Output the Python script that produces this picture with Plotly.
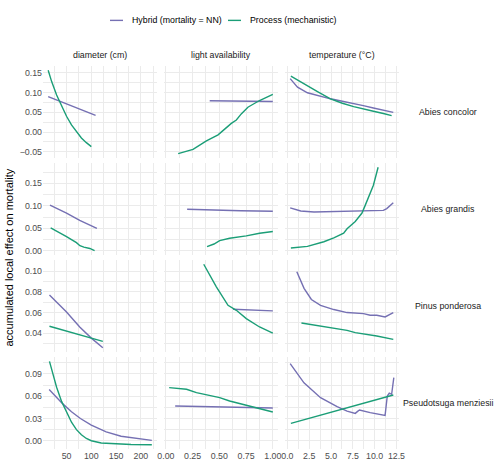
import plotly.graph_objects as go
from plotly.subplots import make_subplots

SPECIES = ["Abies concolor", "Abies grandis", "Pinus ponderosa", "Pseudotsuga menziesii"]
VARIABLES = ["diameter (cm)", "light availability", "temperature (°C)"]
MODELS = ["Hybrid (mortality = NN)", "Process (mechanistic)"]
COLORS = ["#7570B3", "#1B9E77"]

# Abies concolor
ac_diam_hyb_x = [13, 40, 70, 108.6]
ac_diam_hyb_y = [0.090, 0.0765, 0.0615, 0.042]
ac_diam_pro_x = [13, 20, 30, 40, 50, 60, 70, 80, 90, 100]
ac_diam_pro_y = [0.157, 0.128, 0.094, 0.065, 0.040, 0.018, 0.000, -0.015, -0.027, -0.037]
ac_light_hyb_x = [0.41, 0.6, 0.8, 1.0]
ac_light_hyb_y = [0.0795, 0.079, 0.078, 0.0775]
ac_light_pro_x = [0.115, 0.254, 0.379, 0.488, 0.55, 0.612, 0.659, 0.705, 0.767, 0.876, 1.0]
ac_light_pro_y = [-0.055, -0.044, -0.0226, -0.0072, 0.0074, 0.022, 0.0305, 0.046, 0.063, 0.080, 0.0954]
ac_temp_hyb_x = [0.32, 1.16, 2.3, 3.5, 4.94, 6.3, 7.6, 8.7, 9.86, 11, 12.14]
ac_temp_hyb_y = [0.1356, 0.114, 0.0997, 0.092, 0.0843, 0.078, 0.073, 0.067, 0.061, 0.055, 0.050]
ac_temp_pro_x = [0.4, 1.3, 2.3, 3.5, 4.94, 6.3, 7.6, 8.7, 9.86, 11, 11.95]
ac_temp_pro_y = [0.142, 0.130, 0.118, 0.102, 0.0843, 0.073, 0.0646, 0.058, 0.0527, 0.047, 0.0415]

# Abies grandis
ag_diam_hyb_x = [16.6, 50, 76.6, 111.2]
ag_diam_hyb_y = [0.1014, 0.084, 0.0676, 0.050]
ag_diam_pro_x = [18, 30, 50, 70, 77, 85, 97, 106.6]
ag_diam_pro_y = [0.051, 0.044, 0.0315, 0.018, 0.0113, 0.008, 0.005, 0.0]
ag_light_hyb_x = [0.199, 0.4, 0.7, 1.0]
ag_light_hyb_y = [0.0923, 0.0905, 0.089, 0.0878]
ag_light_pro_x = [0.385, 0.45, 0.503, 0.596, 0.752, 0.876, 1.0]
ag_light_pro_y = [0.009, 0.015, 0.0225, 0.0278, 0.033, 0.039, 0.0428]
ag_temp_hyb_x = [0.32, 1.53, 3.05, 4.5, 6.08, 8.73, 11.0, 11.39, 12.14]
ag_temp_hyb_y = [0.0953, 0.0885, 0.0863, 0.087, 0.0885, 0.0885, 0.090, 0.0939, 0.107]
ag_temp_pro_x = [0.4, 2.3, 4.18, 5.32, 6.45, 6.84, 7.78, 8.55, 8.92, 9.86, 10.4]
ag_temp_pro_y = [0.006, 0.0097, 0.020, 0.0286, 0.039, 0.0489, 0.0653, 0.084, 0.101, 0.146, 0.186]

# Pinus ponderosa
pp_diam_hyb_x = [15.6, 50, 76.6, 100, 123.2]
pp_diam_hyb_y = [0.0768, 0.0606, 0.0461, 0.0354, 0.0261]
pp_diam_pro_x = [15.6, 50, 100, 123.2]
pp_diam_pro_y = [0.0468, 0.0419, 0.0354, 0.0322]
pp_light_hyb_x = [0.628, 0.8, 1.0]
pp_light_hyb_y = [0.0632, 0.0622, 0.0616]
pp_light_pro_x = [0.354, 0.472, 0.581, 0.659, 0.752, 0.876, 1.0]
pp_light_pro_y = [0.1065, 0.0848, 0.067, 0.0622, 0.0542, 0.0461, 0.0403]
pp_temp_hyb_x = [1.08, 1.91, 2.75, 3.8, 5.32, 6.84, 8.73, 9.49, 10.25, 11.2, 12.14]
pp_temp_hyb_y = [0.0993, 0.0833, 0.0726, 0.067, 0.0629, 0.060, 0.059, 0.0574, 0.0574, 0.0558, 0.060]
pp_temp_pro_x = [1.61, 4.18, 6.84, 7.78, 9.49, 10.25, 12.14]
pp_temp_pro_y = [0.050, 0.0468, 0.0429, 0.0407, 0.0387, 0.0374, 0.0342]

# Pseudotsuga menziesii
pm_diam_hyb_x = [15, 30, 42, 60, 78, 100, 130, 160, 190, 222]
pm_diam_hyb_y = [0.069, 0.058, 0.050, 0.039, 0.030, 0.021, 0.012, 0.006, 0.003, 0.0005]
pm_diam_pro_x = [15.6, 20, 27, 30, 40, 50, 60, 70, 80, 90, 100, 120, 150, 180, 222]
pm_diam_pro_y = [0.107, 0.096, 0.080, 0.072, 0.053, 0.038, 0.025, 0.015, 0.008, 0.003, 0.000,
                 -0.003, -0.0045, -0.005, -0.0055]
pm_light_hyb_x = [0.087, 0.5, 1.0]
pm_light_hyb_y = [0.0468, 0.0455, 0.0441]
pm_light_pro_x = [0.031, 0.193, 0.286, 0.379, 0.503, 0.596, 0.752, 0.876, 1.0]
pm_light_pro_y = [0.0716, 0.0693, 0.0649, 0.0617, 0.0581, 0.0535, 0.0477, 0.0432, 0.0387]
pm_temp_hyb_x = [0.32, 0.77, 1.9, 3.8, 5.7, 6.84, 7.78, 8.05, 8.27, 9.49, 11.2, 11.45, 11.68, 11.95, 12.2]
pm_temp_hyb_y = [0.104, 0.0964, 0.078, 0.058, 0.046, 0.040, 0.0369, 0.0396, 0.0414, 0.0378, 0.0342,
                 0.0603, 0.064, 0.0626, 0.085]
pm_temp_pro_x = [0.4, 6.27, 12.14]
pm_temp_pro_y = [0.0234, 0.0425, 0.0616]

# (fila, columna, modelo, x, y)
curvas = [
    (1, 1, 0, ac_diam_hyb_x, ac_diam_hyb_y), (1, 1, 1, ac_diam_pro_x, ac_diam_pro_y),
    (1, 2, 0, ac_light_hyb_x, ac_light_hyb_y), (1, 2, 1, ac_light_pro_x, ac_light_pro_y),
    (1, 3, 0, ac_temp_hyb_x, ac_temp_hyb_y), (1, 3, 1, ac_temp_pro_x, ac_temp_pro_y),
    (2, 1, 0, ag_diam_hyb_x, ag_diam_hyb_y), (2, 1, 1, ag_diam_pro_x, ag_diam_pro_y),
    (2, 2, 0, ag_light_hyb_x, ag_light_hyb_y), (2, 2, 1, ag_light_pro_x, ag_light_pro_y),
    (2, 3, 0, ag_temp_hyb_x, ag_temp_hyb_y), (2, 3, 1, ag_temp_pro_x, ag_temp_pro_y),
    (3, 1, 0, pp_diam_hyb_x, pp_diam_hyb_y), (3, 1, 1, pp_diam_pro_x, pp_diam_pro_y),
    (3, 2, 0, pp_light_hyb_x, pp_light_hyb_y), (3, 2, 1, pp_light_pro_x, pp_light_pro_y),
    (3, 3, 0, pp_temp_hyb_x, pp_temp_hyb_y), (3, 3, 1, pp_temp_pro_x, pp_temp_pro_y),
    (4, 1, 0, pm_diam_hyb_x, pm_diam_hyb_y), (4, 1, 1, pm_diam_pro_x, pm_diam_pro_y),
    (4, 2, 0, pm_light_hyb_x, pm_light_hyb_y), (4, 2, 1, pm_light_pro_x, pm_light_pro_y),
    (4, 3, 0, pm_temp_hyb_x, pm_temp_hyb_y), (4, 3, 1, pm_temp_pro_x, pm_temp_pro_y),
]

y_dtick = [0.05, 0.05, 0.02, 0.03]
x_dtick = [50, 0.25, 2.5]
x_format = ["", ".2f", ".1f"]

FONT = "Liberation Sans, Arial, sans-serif"
GRID = "#EBEBEB"

# tamaño del área de paneles en pixeles
L, R, T, B = 43, 105, 65.7, 18.6
W, H = 504, 468
PW, PH = W - L - R, H - T - B


def px_x(p):   # pixel -> coordenada paper
    return (p - L) / PW


def px_y(p):
    return (H - B - p) / PH


fig = make_subplots(rows=4, cols=3, shared_xaxes=True, shared_yaxes=True,
                    horizontal_spacing=7 / PW, vertical_spacing=5.2 / PH)

for fila, col, m, x, y in curvas:
    fig.add_trace(go.Scatter(x=x, y=y, mode="lines", name=MODELS[m],
                             line=dict(color=COLORS[m], width=1.4),
                             showlegend=False),
                  row=fila, col=col)


def rango(vals):
    lo, hi = min(vals), max(vals)
    d = (hi - lo) * 0.05
    return [lo - d, hi + d]


for col in range(1, 4):
    xs = [v for f, c, m, x, y in curvas if c == col for v in x]
    for fila in range(1, 5):
        fig.update_xaxes(range=rango(xs), dtick=x_dtick[col - 1], tick0=0,
                         tickformat=x_format[col - 1], showgrid=True, gridcolor=GRID,
                         gridwidth=1.4, zeroline=False, ticks="", showline=False,
                         automargin=False,
                         minor=dict(dtick=x_dtick[col - 1] / 2, showgrid=True,
                                    gridcolor=GRID, gridwidth=0.7),
                         tickfont=dict(size=8.8, color="#4D4D4D", family=FONT),
                         row=fila, col=col)

for fila in range(1, 5):
    ys = [v for f, c, m, x, y in curvas if f == fila for v in y]
    for col in range(1, 4):
        fig.update_yaxes(range=rango(ys), dtick=y_dtick[fila - 1], tick0=0,
                         tickformat=".2f", showgrid=True, gridcolor=GRID,
                         gridwidth=1.4, zeroline=False, ticks="", showline=False,
                         automargin=False,
                         minor=dict(dtick=y_dtick[fila - 1] / 2, showgrid=True,
                                    gridcolor=GRID, gridwidth=0.7),
                         tickfont=dict(size=8.8, color="#4D4D4D", family=FONT),
                         row=fila, col=col)

# etiquetas de las facetas
for col in range(1, 4):
    dom = fig.layout["xaxis" + ("" if col == 1 else str(col))].domain
    fig.add_annotation(text=VARIABLES[col - 1], xref="paper", yref="paper",
                       x=(dom[0] + dom[1]) / 2, y=px_y(55), showarrow=False,
                       xanchor="center", yanchor="middle",
                       font=dict(size=8.8, color="#1A1A1A", family=FONT))
for fila in range(1, 5):
    yname = "yaxis" + ("" if fila == 1 else str((fila - 1) * 3 + 1))
    dom = fig.layout[yname].domain
    fig.add_annotation(text=SPECIES[fila - 1], xref="paper", yref="paper",
                       x=px_x(448), y=(dom[0] + dom[1]) / 2, showarrow=False,
                       xanchor="center", yanchor="middle",
                       font=dict(size=8.8, color="#1A1A1A", family=FONT))

fig.add_annotation(text="accumulated local effect on mortality", xref="paper", yref="paper",
                   x=px_x(8), y=0.5, textangle=-90, showarrow=False,
                   xanchor="center", yanchor="middle",
                   font=dict(size=11, color="black", family=FONT))

# leyenda arriba (clave de línea corta como en ggplot)
for m, (x0, x1, xt) in enumerate([(110, 123, 130), (228, 241, 248)]):
    fig.add_shape(type="line", xref="paper", yref="paper",
                  x0=px_x(x0), x1=px_x(x1), y0=px_y(20), y1=px_y(20),
                  line=dict(color=COLORS[m], width=1.4))
    fig.add_annotation(text=MODELS[m], xref="paper", yref="paper",
                       x=px_x(xt), y=px_y(20), showarrow=False,
                       xanchor="left", yanchor="middle",
                       font=dict(size=8.8, color="black", family=FONT))

fig.update_layout(
    template="none",
    width=W, height=H,
    margin=dict(l=L, r=R, t=T, b=B),
    plot_bgcolor="white", paper_bgcolor="white",
    font=dict(family=FONT, size=8.8, color="black"),
    showlegend=False,
)

# sin el margen por defecto del <body> y sin barra de herramientas
fig.write_html("out.html", config={"displayModeBar": False},
               post_script="document.body.style.margin = '0';")
